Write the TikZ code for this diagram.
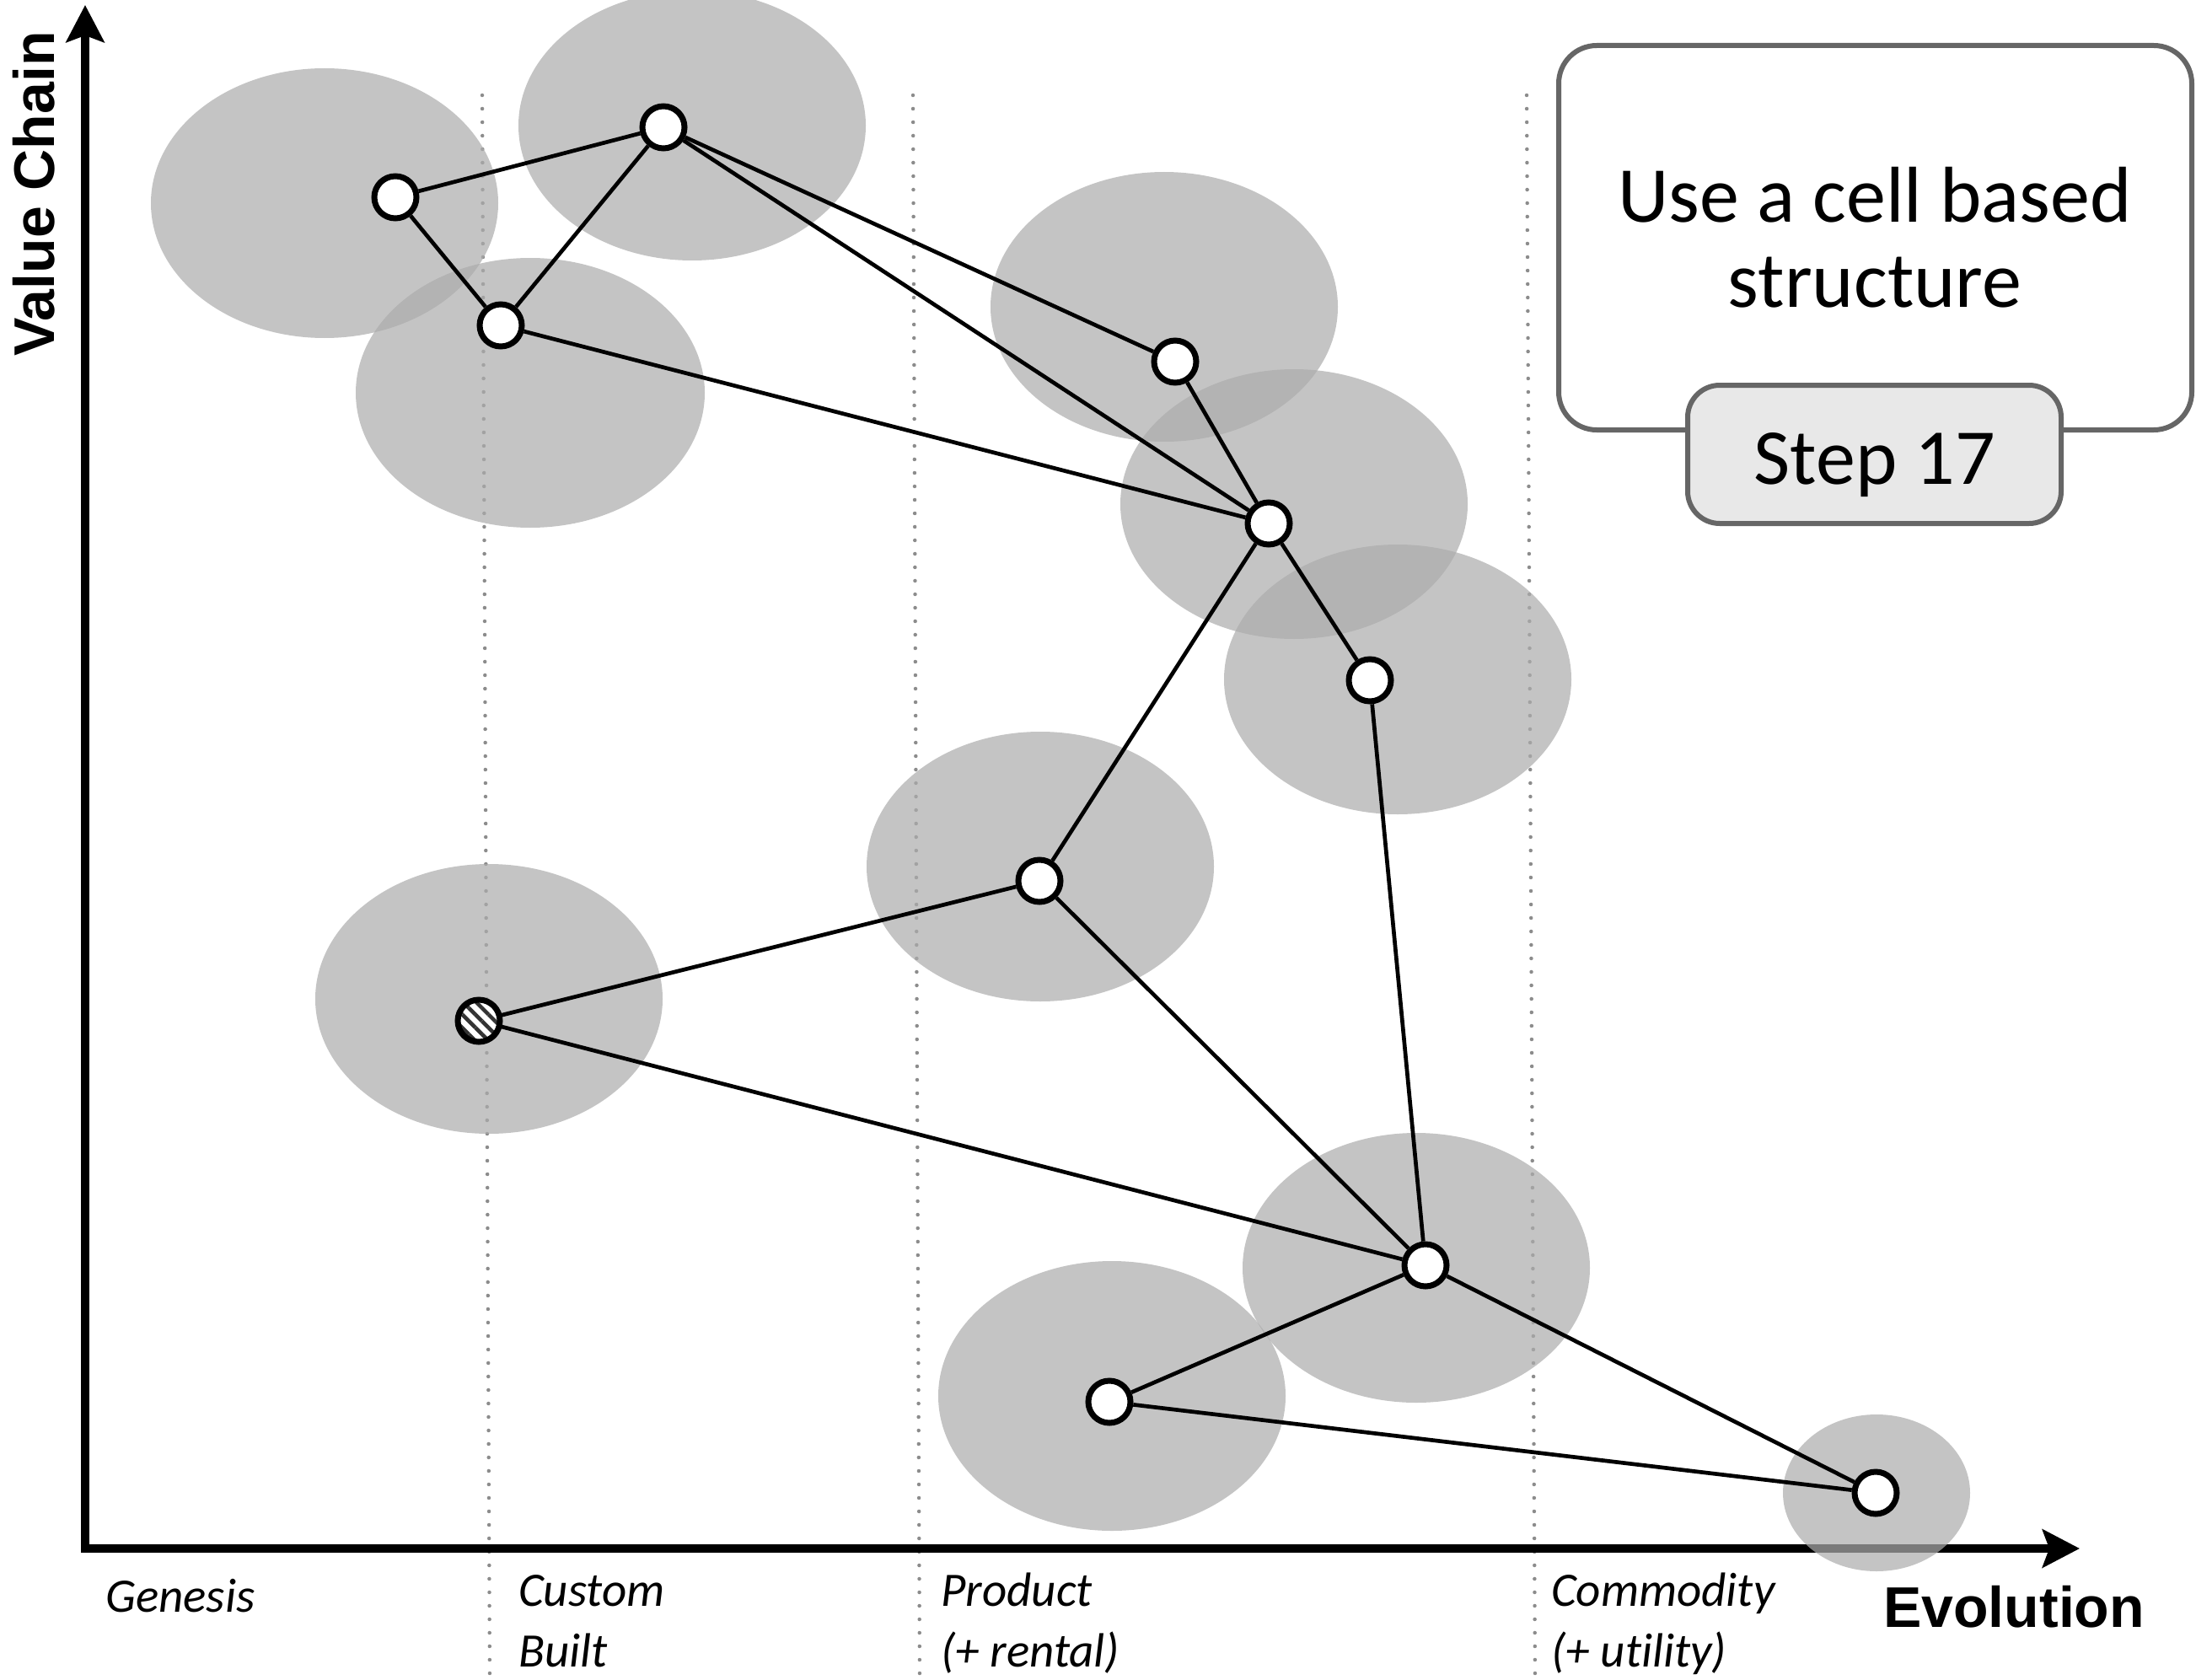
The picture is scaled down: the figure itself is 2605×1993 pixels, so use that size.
\documentclass[tikz,border=0pt]{standalone}
\usepackage{fontspec}
\setmainfont{Carlito}[Ligatures=NoCommon]
\newfontfamily\headfont{Liberation Sans}
\usetikzlibrary{arrows.meta,patterns.meta}
\definecolor{cellgray}{RGB}{172,172,172}
\definecolor{framegray}{RGB}{102,102,102}
\definecolor{tabgray}{RGB}{232,232,232}
\definecolor{gridgray}{RGB}{140,140,140}
\begin{document}
\begin{tikzpicture}[x=1pt,y=-1pt,
  cell/.style={fill=cellgray, fill opacity=0.71},
  comp/.style={circle, draw=black, line width=7pt, fill=white, minimum size=50pt, inner sep=0pt},
  link/.style={line width=4.7pt},
  stage/.style={draw=gridgray, line width=4.5pt, line cap=round, dash pattern=on 0pt off 16pt},
  axis/.style={line width=10.5pt, {Stealth[length=44pt,width=45pt,inset=8pt]}-{Stealth[length=44pt,width=45pt,inset=8pt]}},
  phase/.style={anchor=base west, align=left, inner sep=0pt, font=\fontsize{57}{72}\selectfont\itshape},
  axislabel/.style={inner sep=0pt, font=\headfont\bfseries\fontsize{68}{72}\selectfont},
  panel/.style={draw=framegray, line width=6pt, inner sep=0pt}]
\useasboundingbox (0,0) rectangle (2605,1993);

% stage boundaries
\coordinate (s1t) at (572,113);  \coordinate (s1b) at (581,1993);
\coordinate (s2t) at (1083,113); \coordinate (s2b) at (1091,1993);
\coordinate (s3t) at (1811,113); \coordinate (s3b) at (1821,1993);
\draw[stage] (s1t) -- (s1b);
\draw[stage] (s2t) -- (s2b);
\draw[stage] (s3t) -- (s3b);

% axes
\coordinate (ytip) at (101,6);
\coordinate (xtip) at (2467,1837);
\draw[axis] (ytip) |- (xtip);
\node[axislabel, rotate=90] (vc) at (40,230) {Value Chain};
\node[axislabel, anchor=base west] (evo) at (2234,1930) {Evolution};

% evolution stages (multi-line nodes are anchored at their last baseline)
\node[phase] (gen) at (125,1912) {Genesis};
\node[phase] (cus) at (615,1977) {Custom\\Built};
\node[phase] (pro) at (1116,1977) {Product\\(+ rental)};
\node[phase] (com) at (1840,1977) {Commodity\\(+ utility)};

% cells
\fill[cell] (385,241)  ellipse [x radius=206pt, y radius=160pt];
\fill[cell] (821,149)  ellipse [x radius=206pt, y radius=160pt];
\fill[cell] (629,466)  ellipse [x radius=207pt, y radius=160pt];
\fill[cell] (1381,364) ellipse [x radius=206pt, y radius=160pt];
\fill[cell] (1535,598) ellipse [x radius=206pt, y radius=160pt];
\fill[cell] (1658,806) ellipse [x radius=206pt, y radius=160pt];
\fill[cell] (1234,1028) ellipse [x radius=206pt, y radius=160pt];
\fill[cell] (580,1185) ellipse [x radius=206pt, y radius=160pt];
\fill[cell] (1680,1504) ellipse [x radius=206pt, y radius=160pt];
\fill[cell] (1319,1656) ellipse [x radius=206pt, y radius=160pt];
\fill[cell] (2226,1771) ellipse [x radius=111pt, y radius=93pt];

% components
\node[comp] (a) at (469,234) {};
\node[comp] (b) at (787,151) {};
\node[comp] (c) at (594,386) {};
\node[comp] (d) at (1394,429) {};
\node[comp] (e) at (1505,621) {};
\node[comp] (f) at (1625,807) {};
\node[comp] (g) at (1233,1045) {};
\node[comp, preaction={fill=white}, pattern={Lines[angle=-45,distance=11pt,line width=4.5pt]}, pattern color=black!80] (h) at (568,1211) {};
\node[comp] (i) at (1691,1501) {};
\node[comp] (j) at (1316,1663) {};
\node[comp] (k) at (2225,1771) {};

% links
\draw[link] (a) -- (b);
\draw[link] (a) -- (c);
\draw[link] (c) -- (b);
\draw[link] (b) -- (d);
\draw[link] (b) -- (e);
\draw[link] (c) -- (e);
\draw[link] (d) -- (e);
\draw[link] (e) -- (f);
\draw[link] (e) -- (g);
\draw[link] (g) -- (h);
\draw[link] (g) -- (i);
\draw[link] (f) -- (i);
\draw[link] (h) -- (i);
\draw[link] (i) -- (j);
\draw[link] (i) -- (k);
\draw[link] (j) -- (k);

% caption panel
\node[panel, fill=white, rounded corners=45pt, minimum width=751pt, minimum height=456pt] (msgbox) at (2224.5,282) {};
\node[align=center, anchor=base, inner sep=0pt, font=\fontsize{94}{101}\selectfont] (msg) at (2224,364) {Use a cell based\\structure};
\node[panel, fill=tabgray, rounded corners=38pt, minimum width=443pt, minimum height=164pt] (stepbox) at (2223.5,539) {};
\node[anchor=base, inner sep=0pt, font=\fontsize{94}{101}\selectfont] (steptext) at (2224,574) {Step 17};
\end{tikzpicture}
\end{document}
